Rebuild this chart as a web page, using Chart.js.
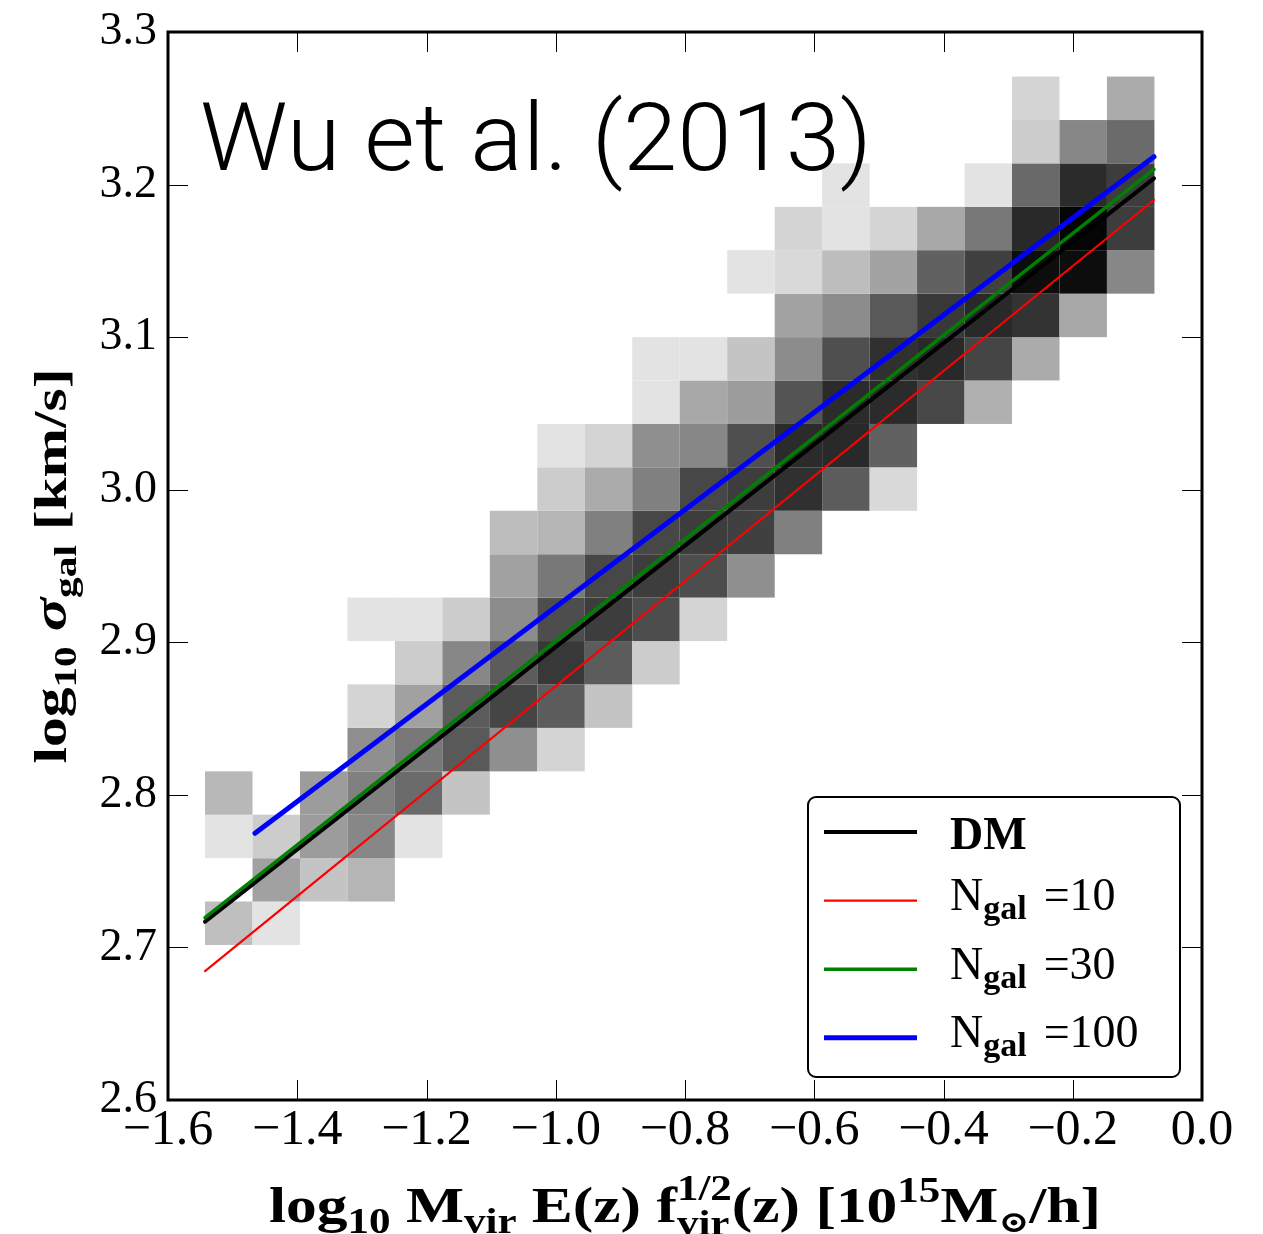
<!DOCTYPE html>
<html>
<head>
<meta charset="utf-8">
<title>sigma_gal - M_vir</title>
<script src="https://cdn.jsdelivr.net/npm/chart.js@4.4.0/dist/chart.umd.min.js"></script>
<style>
  html, body { margin: 0; padding: 0; background: #fff; }
  #wrap { width: 1263px; height: 1234px; }
</style>
</head>
<body>
<div id="wrap"><canvas id="chart" width="1263" height="1234"></canvas></div>
<script>
// 2D histogram bin edges
const xEdges = [-1.5427, -1.4692, -1.3958, -1.3223, -1.2489, -1.1754, -1.1020, -1.0285, -0.9551, -0.8816,
                -0.8082, -0.7347, -0.6612, -0.5878, -0.5143, -0.4409, -0.3674, -0.2940, -0.2205, -0.1471, -0.0736];
const yEdges = [2.7016, 2.7301, 2.7585, 2.7870, 2.8154, 2.8439, 2.8724, 2.9008, 2.9293, 2.9577,
                2.9862, 3.0147, 3.0431, 3.0716, 3.1000, 3.1285, 3.1570, 3.1854, 3.2139, 3.2423, 3.2708];

// bin occupancy (percent of the densest bin), one row per sigma bin, lowest first
const density = [
  [25, 11,  0,  0,  0,  0,  0,  0,  0,  0,  0,  0,  0,  0,  0,  0,  0,  0,  0,  0],
  [ 0, 37, 23, 29,  0,  0,  0,  0,  0,  0,  0,  0,  0,  0,  0,  0,  0,  0,  0,  0],
  [11, 20, 39, 47, 11,  0,  0,  0,  0,  0,  0,  0,  0,  0,  0,  0,  0,  0,  0,  0],
  [28,  0, 39, 50, 58, 23,  0,  0,  0,  0,  0,  0,  0,  0,  0,  0,  0,  0,  0,  0],
  [ 0,  0,  0, 44, 53, 65, 44, 17,  0,  0,  0,  0,  0,  0,  0,  0,  0,  0,  0,  0],
  [ 0,  0,  0, 17, 37, 64, 73, 64, 23,  0,  0,  0,  0,  0,  0,  0,  0,  0,  0,  0],
  [ 0,  0,  0,  0, 20, 47, 64, 78, 64, 20,  0,  0,  0,  0,  0,  0,  0,  0,  0,  0],
  [ 0,  0,  0, 11, 11, 20, 45, 70, 76, 70, 17,  0,  0,  0,  0,  0,  0,  0,  0,  0],
  [ 0,  0,  0,  0,  0,  0, 37, 53, 72, 76, 70, 44,  0,  0,  0,  0,  0,  0,  0,  0],
  [ 0,  0,  0,  0,  0,  0, 26, 29, 50, 72, 76, 75, 50,  0,  0,  0,  0,  0,  0,  0],
  [ 0,  0,  0,  0,  0,  0,  0, 20, 33, 50, 72, 76, 81, 64, 15,  0,  0,  0,  0,  0],
  [ 0,  0,  0,  0,  0,  0,  0, 11, 17, 44, 47, 69, 83, 84, 62,  0,  0,  0,  0,  0],
  [ 0,  0,  0,  0,  0,  0,  0,  0,  0, 11, 34, 39, 67, 83, 83, 72, 31,  0,  0,  0],
  [ 0,  0,  0,  0,  0,  0,  0,  0,  0, 11, 11, 23, 45, 69, 81, 84, 73, 33,  0,  0],
  [ 0,  0,  0,  0,  0,  0,  0,  0,  0,  0,  0,  0, 36, 45, 65, 78, 84, 80, 34,  0],
  [ 0,  0,  0,  0,  0,  0,  0,  0,  0,  0,  0, 11, 15, 26, 36, 62, 75, 95, 95, 47],
  [ 0,  0,  0,  0,  0,  0,  0,  0,  0,  0,  0,  0, 17, 11, 17, 34, 53, 84, 98, 76],
  [ 0,  0,  0,  0,  0,  0,  0,  0,  0,  0,  0,  0,  0, 11,  0,  0, 11, 59, 83, 76],
  [ 0,  0,  0,  0,  0,  0,  0,  0,  0,  0,  0,  0,  0,  0,  0,  0,  0, 20, 47, 58],
  [ 0,  0,  0,  0,  0,  0,  0,  0,  0,  0,  0,  0,  0,  0,  0,  0,  0, 17,  0, 33]
];

// best-fit relations (end points)
const fitDM   = [{ x: -1.5427, y: 2.7169 }, { x: -0.0743, y: 3.2041 }];
const fitN10  = [{ x: -1.5427, y: 2.6845 }, { x: -0.0743, y: 3.1899 }];
const fitN30  = [{ x: -1.5427, y: 2.7195 }, { x: -0.0743, y: 3.2100 }];
const fitN100 = [{ x: -1.4654, y: 2.7748 }, { x: -0.0743, y: 3.2183 }];

const xTicks = [-1.6, -1.4, -1.2, -1.0, -0.8, -0.6, -0.4, -0.2, 0.0];
const yTicks = [2.6, 2.7, 2.8, 2.9, 3.0, 3.1, 3.2, 3.3];

const SERIF = '"Liberation Serif", "DejaVu Serif", serif';

function fmtTick(v) {
  return (v < -1e-9 ? '\u2212' : '') + Math.abs(v).toFixed(1);
}

// text with sub/superscripts, drawn piece by piece
function richWidth(ctx, parts) {
  let w = 0;
  parts.forEach(p => {
    ctx.font = p.font;
    if (p.sup !== undefined) {
      w += Math.max(ctx.measureText(p.sup).width, ctx.measureText(p.sub).width);
    } else {
      w += ctx.measureText(p.t).width;
    }
  });
  return w;
}

function drawRich(ctx, parts, x, y, align, fitWidth) {
  const w = richWidth(ctx, parts);
  const s = fitWidth ? fitWidth / w : 1;
  ctx.save();
  ctx.translate(x, y);
  ctx.scale(s, 1);
  ctx.textAlign = 'left';
  ctx.textBaseline = 'alphabetic';
  ctx.fillStyle = '#000';
  let cx = align === 'center' ? -w / 2 : 0;
  parts.forEach(p => {
    ctx.font = p.font;
    if (p.sup !== undefined) {
      ctx.fillText(p.sup, cx, p.supDy);
      ctx.fillText(p.sub, cx, p.subDy);
      cx += Math.max(ctx.measureText(p.sup).width, ctx.measureText(p.sub).width);
    } else {
      ctx.fillText(p.t, cx, p.dy || 0);
      cx += ctx.measureText(p.t).width;
    }
  });
  ctx.restore();
}

function labelParts(label, size) {
  // "N_{gal} =10" -> N, subscript gal, "=10"
  const m = label.match(/^(.*)_\{(.*)\}(.*)$/);
  if (!m) return [{ t: label, font: `bold ${size}px ${SERIF}` }];
  return [
    { t: m[1], font: `${size}px ${SERIF}` },
    { t: m[2] + '\u2002', font: `bold ${Math.round(size * 0.74)}px ${SERIF}`, dy: 9 },
    { t: m[3].trim(), font: `${size}px ${SERIF}` }
  ];
}

const histogram2d = {
  id: 'histogram2d',
  beforeDatasetsDraw(chart) {
    const { ctx, chartArea, scales: { x, y } } = chart;
    ctx.save();
    ctx.beginPath();
    ctx.rect(chartArea.left, chartArea.top, chartArea.width, chartArea.height);
    ctx.clip();
    density.forEach((row, r) => {
      row.forEach((d, c) => {
        if (!d) return;
        const g = Math.round(255 * (1 - d / 100));
        ctx.fillStyle = `rgb(${g},${g},${g})`;
        const x0 = x.getPixelForValue(xEdges[c]);
        const x1 = x.getPixelForValue(xEdges[c + 1]);
        const y0 = y.getPixelForValue(yEdges[r + 1]);
        const y1 = y.getPixelForValue(yEdges[r]);
        ctx.fillRect(x0, y0, x1 - x0, y1 - y0);
      });
    });
    ctx.restore();
  }
};

const decorations = {
  id: 'decorations',
  afterDatasetsDraw(chart) {
    const { ctx, chartArea: a, scales: { x, y } } = chart;

    // frame and inward ticks on all four sides
    ctx.save();
    ctx.strokeStyle = '#000';
    ctx.lineWidth = 1;
    const tl = 20;
    x.ticks.forEach(t => {
      const px = Math.round(x.getPixelForValue(t.value)) + 0.5;
      ctx.beginPath();
      ctx.moveTo(px, a.bottom); ctx.lineTo(px, a.bottom - tl);
      ctx.moveTo(px, a.top); ctx.lineTo(px, a.top + tl);
      ctx.stroke();
    });
    y.ticks.forEach(t => {
      const py = Math.round(y.getPixelForValue(t.value)) + 0.5;
      ctx.beginPath();
      ctx.moveTo(a.left, py); ctx.lineTo(a.left + tl, py);
      ctx.moveTo(a.right, py); ctx.lineTo(a.right - tl, py);
      ctx.stroke();
    });
    ctx.lineWidth = 3;
    ctx.strokeRect(a.left, a.top, a.right - a.left, a.bottom - a.top);
    ctx.restore();

    // annotation
    ctx.save();
    ctx.fillStyle = '#000';
    ctx.font = '300 94px Roboto, "Liberation Sans", sans-serif';
    ctx.textBaseline = 'alphabetic';
    const title = 'Wu et al. (2013)';
    const tw = ctx.measureText(title).width;
    ctx.translate(200, 170);
    ctx.scale(672 / tw, 1);
    ctx.fillText(title, 0, 0);
    ctx.restore();

    // axis titles
    const B = s => `bold ${s}px ${SERIF}`;
    const BI = s => `italic bold ${s}px ${SERIF}`;
    drawRich(ctx, [
      { t: 'log', font: B(50) },
      { t: '10', font: B(35), dy: 11 },
      { t: ' M', font: B(50) },
      { t: 'vir', font: B(35), dy: 11 },
      { t: ' E(z) f', font: B(50) },
      { sup: '1/2', sub: 'vir', font: B(35), supDy: -22, subDy: 13 },
      { t: '(z) [10', font: B(50) },
      { t: '15', font: B(35), dy: -20 },
      { t: 'M', font: B(50) },
      { t: '\u2299', font: B(30), dy: 10 },
      { t: '/h]', font: B(50) }
    ], (a.left + a.right) / 2, 1222, 'center', 832);

    ctx.save();
    ctx.translate(66, (a.top + a.bottom) / 2);
    ctx.rotate(-Math.PI / 2);
    drawRich(ctx, [
      { t: 'log', font: B(46) },
      { t: '10', font: B(32), dy: 10 },
      { t: ' ', font: B(46) },
      { t: '\u03c3', font: BI(48) },
      { t: 'gal', font: B(32), dy: 10 },
      { t: ' [km/s]', font: B(46) }
    ], 0, 0, 'center', 395);
    ctx.restore();

    // legend
    const box = { x: 808, y: 797, w: 372, h: 280 };
    ctx.save();
    ctx.beginPath();
    ctx.roundRect(box.x, box.y, box.w, box.h, 8);
    ctx.fillStyle = '#fff';
    ctx.fill();
    ctx.lineWidth = 2;
    ctx.strokeStyle = '#000';
    ctx.stroke();
    chart.data.datasets.forEach((ds, i) => {
      const ly = 832 + i * 68.6;
      ctx.beginPath();
      ctx.strokeStyle = ds.borderColor;
      ctx.lineWidth = ds.borderWidth;
      ctx.lineCap = 'butt';
      ctx.moveTo(824, ly);
      ctx.lineTo(917, ly);
      ctx.stroke();
      const parts = labelParts(ds.label, 46);
      const sub = parts.length > 1;
      drawRich(ctx, parts, 950, ly + (sub ? 9.5 : 16.5), 'left');
    });
    ctx.restore();
  }
};

const lineStyle = (label, data, color, width, order) => ({
  label, data, borderColor: color, borderWidth: width, order,
  showLine: true, pointRadius: 0, fill: false, tension: 0, borderCapStyle: 'round'
});

new Chart(document.getElementById('chart'), {
  type: 'scatter',
  data: {
    datasets: [
      lineStyle('DM', fitDM, '#000000', 4, 4),
      lineStyle('N_{gal} =10', fitN10, '#ff0000', 2.2, 3),
      lineStyle('N_{gal} =30', fitN30, '#008000', 3.5, 2),
      lineStyle('N_{gal} =100', fitN100, '#0000ff', 5, 1)
    ]
  },
  options: {
    responsive: false,
    animation: false,
    devicePixelRatio: 1,
    layout: { padding: { left: 0, top: 32, right: 61, bottom: 0 } },
    plugins: { legend: { display: false }, tooltip: { enabled: false } },
    scales: {
      x: {
        type: 'linear', min: -1.6, max: 0,
        afterBuildTicks: s => { s.ticks = xTicks.map(v => ({ value: v })); },
        afterFit: s => { s.height = 134; s.paddingLeft = 0; s.paddingRight = 0; },
        grid: { display: false, drawTicks: false },
        border: { display: false },
        ticks: {
          font: { family: SERIF, size: 50 }, color: '#000', padding: 1,
          maxRotation: 0, autoSkip: false, callback: v => fmtTick(v)
        }
      },
      y: {
        type: 'linear', min: 2.6, max: 3.3,
        afterBuildTicks: s => { s.ticks = yTicks.map(v => ({ value: v })); },
        afterFit: s => { s.width = 168; s.paddingTop = 0; s.paddingBottom = 0; },
        grid: { display: false, drawTicks: false },
        border: { display: false },
        ticks: {
          font: { family: SERIF, size: 46 }, color: '#000', padding: 11,
          autoSkip: false, callback: v => fmtTick(v)
        }
      }
    }
  },
  plugins: [histogram2d, decorations]
});
</script>
</body>
</html>
